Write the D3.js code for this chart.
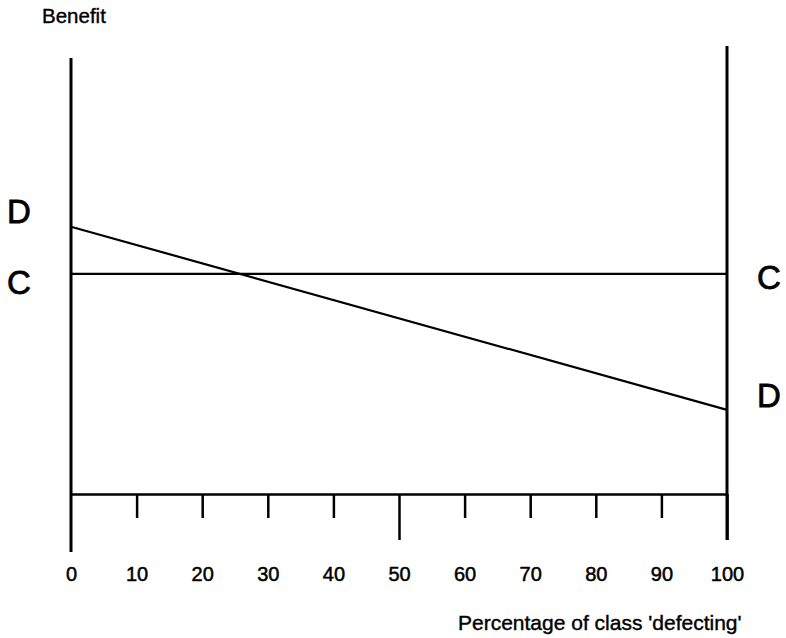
<!DOCTYPE html>
<html>
<head>
<meta charset="utf-8">
<script src="https://cdn.jsdelivr.net/npm/d3@7"></script>
<style>
  html, body { margin: 0; padding: 0; background: #fff; }
  text { font-family: "Liberation Sans", Arial, sans-serif; fill: #000; }
</style>
</head>
<body>
<svg id="chart" width="786" height="638"></svg>
<script>
// ---- data ----
const xTicks = [0, 10, 20, 30, 40, 50, 60, 70, 80, 90, 100];
const cooperateBenefit = [{pct: 0, benefit: 5.05}, {pct: 100, benefit: 5.05}];
const defectBenefit = [{pct: 0, benefit: 6.13}, {pct: 100, benefit: 1.93}];
const yLabel = "Benefit";
const xLabel = "Percentage of class 'defecting'";

// ---- layout ----
const svg = d3.select("#chart");
const x = d3.scaleLinear().domain([0, 100]).range([71, 727]);
const y = d3.scaleLinear().domain([0, 10]).range([494, 58]);

const axisColor = "#000";

// left vertical axis (extends below x axis)
svg.append("line")
  .attr("x1", x(0)).attr("x2", x(0))
  .attr("y1", y(10)).attr("y2", y(0) + 58)
  .attr("stroke", axisColor).attr("stroke-width", 3);

// right vertical line
svg.append("line")
  .attr("x1", x(100)).attr("x2", x(100))
  .attr("y1", y(10) - 12).attr("y2", y(0) + 46)
  .attr("stroke", axisColor).attr("stroke-width", 3);

// bottom axis
const xAxis = d3.axisBottom(x).tickValues(xTicks).tickSize(24).tickSizeOuter(0).tickFormat(d3.format("d"));
const gx = svg.append("g").attr("transform", `translate(0,${y(0)})`).call(xAxis);
gx.attr("font-size", null).attr("font-family", null);
gx.select(".domain").attr("stroke", axisColor).attr("stroke-width", 2.5);
gx.selectAll(".tick line")
  .attr("stroke", axisColor).attr("stroke-width", 2.5)
  .attr("y2", d => d === 0 ? 0 : (d % 50 === 0 ? 46 : 24));
gx.selectAll(".tick text")
  .attr("y", 87).attr("dy", 0)
  .attr("fill", "#000")
  .attr("stroke", "#000").attr("stroke-width", 0.5)
  .style("font-family", "'Liberation Sans', Arial, sans-serif")
  .style("font-size", "20px");

// data lines
const line = d3.line().x(d => x(d.pct)).y(d => y(d.benefit));
svg.append("path").datum(cooperateBenefit)
  .attr("d", line).attr("fill", "none").attr("stroke", "#000").attr("stroke-width", 2.2);
svg.append("path").datum(defectBenefit)
  .attr("d", line).attr("fill", "none").attr("stroke", "#000").attr("stroke-width", 2.2);

// end labels
function endLabel(txt, xp, yp) {
  svg.append("text").attr("x", xp).attr("y", yp)
    .attr("stroke", "#000").attr("stroke-width", 0.8)
    .style("font-size", "33px").text(txt);
}
endLabel("D", 7, y(defectBenefit[0].benefit) - 4);
endLabel("C", 7, y(cooperateBenefit[0].benefit) + 20);
endLabel("C", 757, y(cooperateBenefit[1].benefit) + 15);
endLabel("D", 757, y(defectBenefit[1].benefit) - 3);

// axis titles
svg.append("text").attr("x", 42).attr("y", 23)
  .attr("stroke", "#000").attr("stroke-width", 0.4)
  .style("font-size", "20.5px").text(yLabel);
svg.append("text").attr("x", 458).attr("y", 630)
  .attr("stroke", "#000").attr("stroke-width", 0.4)
  .style("font-size", "21px").text(xLabel);
</script>
</body>
</html>
